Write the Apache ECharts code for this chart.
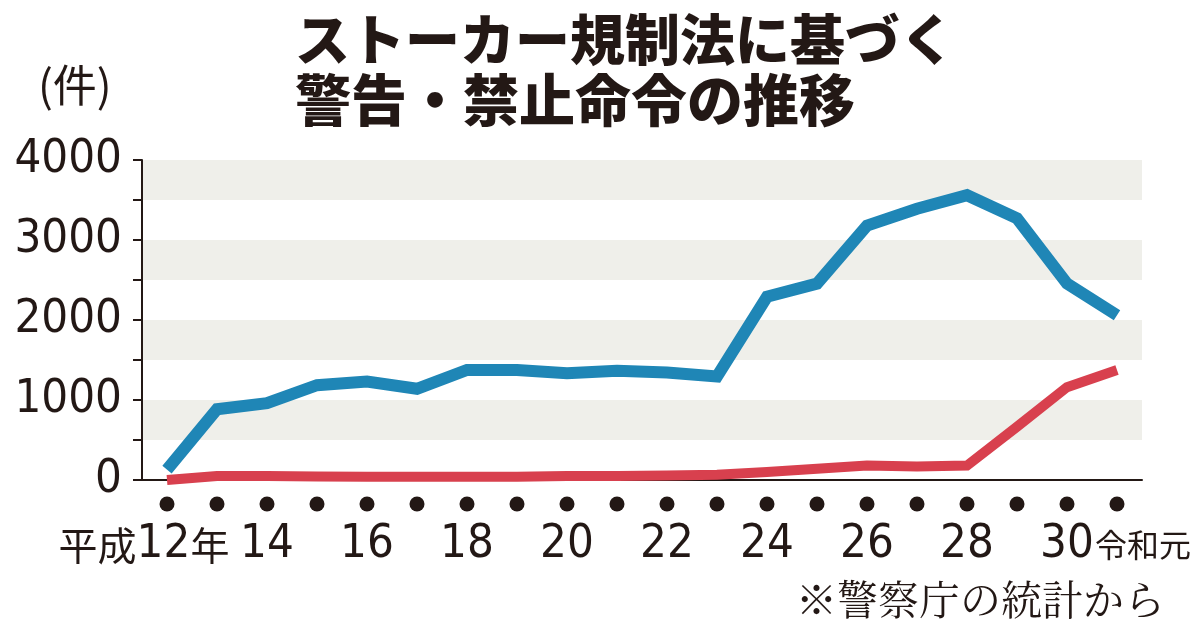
<!DOCTYPE html>
<html>
<head>
<meta charset="utf-8">
<script src="https://cdn.jsdelivr.net/npm/echarts@6/dist/echarts.min.js"></script>
<style>
html,body{margin:0;padding:0;background:#fff;}
#chart{width:1200px;height:629px;}
</style>
</head>
<body>
<div id="chart"></div>
<script>
const categories = ['平成12年','13','14','15','16','17','18','19','20','21','22','23','24','25','26','27','28','29','30','令和元'];
const tickLabels = ['平成12年','','14','','16','','18','','20','','22','','24','','26','','28','','30','令和元'];
const warnings = [130, 885, 960, 1185, 1230, 1140, 1375, 1375, 1335, 1365, 1345, 1295, 2290, 2455, 3180, 3390, 3560, 3270, 2455, 2060];
const orders = [0, 50, 50, 45, 40, 40, 40, 40, 50, 50, 55, 65, 100, 140, 180, 170, 180, 665, 1160, 1375];
const dots = [0,0,0,0,0,0,0,0,0,0,0,0,0,0,0,0,0,0,0,0];
const yTicks = [0, 1000, 2000, 3000, 4000];

const INK = '#231815';
const NARROW = "'Liberation Sans Narrow','DejaVu Sans Condensed','Noto Sans CJK JP',sans-serif";
const CJK = "'Noto Sans CJK JP',sans-serif";

const chart = echarts.init(document.getElementById('chart'), null, {renderer:'canvas'});
chart.setOption({
  animation:false,
  backgroundColor:'#ffffff',
  grid:[
    {left:142, width:1000, top:160, height:320},
    {left:142, width:1000, top:497, height:14}
  ],
  xAxis:[
    {type:'category', gridIndex:0, data:categories, boundaryGap:true,
     axisLine:{show:true, lineStyle:{color:INK, width:2}},
     axisTick:{show:false}, axisLabel:{show:false}, splitLine:{show:false}},
    {type:'category', gridIndex:1, data:categories, boundaryGap:true,
     axisLine:{show:false}, axisTick:{show:false}, splitLine:{show:false},
     axisLabel:{show:true, interval:0, margin:6, color:INK,
       fontFamily:NARROW, fontSize:47, lineHeight:56,
       formatter:function(v, i){
         const t = tickLabels[i];
         if (!t) return '';
         if (i === 0) return '{cj|平成}{num|12}{cjr|年}';
         if (t === '令和元') return '{cjl|令和元}';
         return '{num|' + t + '}';
       },
       rich:{
         num:{fontFamily:NARROW, fontSize:47, lineHeight:56, color:INK},
         cj:{fontFamily:CJK, fontSize:39, lineHeight:56, color:INK},
         cjr:{fontFamily:CJK, fontSize:39, lineHeight:56, color:INK, padding:[0,46,0,0]},
         cjl:{fontFamily:CJK, fontSize:32, lineHeight:56, color:INK, padding:[0,0,0,52]}
       }}}
  ],
  yAxis:[
    {type:'value', gridIndex:0, min:0, max:4000, interval:500,
     axisLine:{show:true, lineStyle:{color:INK, width:2}},
     axisTick:{show:true, inside:false, length:9, lineStyle:{color:INK, width:2}},
     axisLabel:{show:true, margin:20, color:INK, fontFamily:NARROW, fontSize:47,
       formatter:function(v){ return yTicks.indexOf(v) >= 0 ? String(v) : ''; }},
     splitLine:{show:false},
     splitArea:{show:true, areaStyle:{color:['#ffffff','#efefea']}}},
    {type:'value', gridIndex:1, min:-1, max:1, show:false}
  ],
  graphic:[
    {type:'text', left:295, top:12, style:{text:'ストーカー規制法に基づく', font:"900 55px 'Noto Sans CJK JP', sans-serif", fill:INK}},
    {type:'text', left:295, top:72, style:{text:'警告・禁止命令の推移', font:"900 56px 'Noto Sans CJK JP', sans-serif", fill:INK}},
    {type:'text', left:38, top:63, style:{text:'(件)', font:"44px 'Liberation Sans Narrow','Noto Sans CJK JP', sans-serif", fill:INK}},
    {type:'text', left:440, top:296, style:{text:'警告', font:"51px 'Noto Sans CJK JP', sans-serif", fill:INK}},
    {type:'text', left:640, top:401, style:{text:'禁止命令など', font:"52px 'Noto Sans CJK JP', sans-serif", fill:INK}},
    {type:'text', right:35, top:579, style:{text:'※警察庁の統計から', font:"41px 'Noto Serif CJK JP','Noto Sans CJK JP', serif", fill:INK}}
  ],
  series:[
    {type:'line', xAxisIndex:0, yAxisIndex:0, data:warnings, symbol:'none',
     lineStyle:{color:'#1f86b6', width:12, join:'miter'}, z:3},
    {type:'line', xAxisIndex:0, yAxisIndex:0, data:orders, symbol:'none',
     lineStyle:{color:'#d8404e', width:10, join:'miter'}, z:4},
    {type:'scatter', xAxisIndex:1, yAxisIndex:1, data:dots, symbol:'circle', symbolSize:15,
     itemStyle:{color:INK, opacity:1}, z:3}
  ]
});
</script>
</body>
</html>
